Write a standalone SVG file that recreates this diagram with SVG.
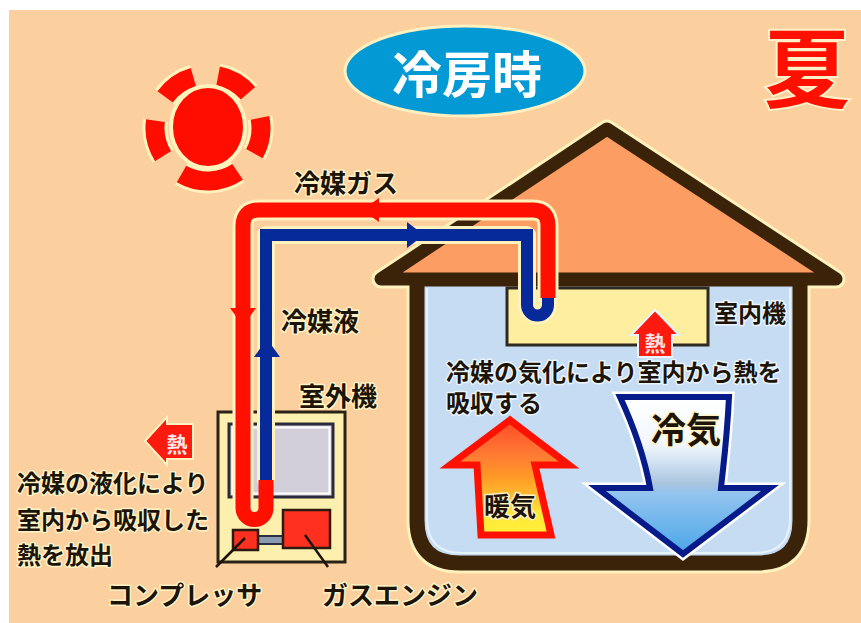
<svg xmlns="http://www.w3.org/2000/svg" width="861" height="623" viewBox="0 0 861 623">
  <defs>
    <style>
      .t { font-family: "Noto Sans CJK JP", "Noto Sans", sans-serif; font-weight: 700; fill: #1c1409; stroke: #fff3c6; stroke-width: 3; paint-order: stroke; stroke-linejoin: round; }
      .tin { stroke: #eaf4fd; }
      .ray { fill: none; stroke: #ff0d00; stroke-width: 19; }
      .rayhalo { fill: none; stroke: #fff3bd; stroke-width: 25; }
      .halo { fill: none; stroke: #fff2bd; stroke-linecap: round; stroke-linejoin: round; }
      .gas { fill: none; stroke: #ff1000; stroke-width: 15; }
      .liq { fill: none; stroke: #062a9a; stroke-width: 12; }
      .lead { fill: none; stroke: #1c1409; stroke-width: 2.5; }
      .box { stroke: #2a2216; stroke-width: 3; }
    </style>
    <linearGradient id="warm" x1="0" y1="0" x2="0" y2="1">
      <stop offset="0" stop-color="#ff4a28"/>
      <stop offset="0.3" stop-color="#ff7a34"/>
      <stop offset="0.5" stop-color="#ff9a26"/>
      <stop offset="0.68" stop-color="#ffc030"/>
      <stop offset="0.8" stop-color="#ffe636"/>
      <stop offset="1" stop-color="#fff03a"/>
    </linearGradient>
    <linearGradient id="cool" x1="0" y1="0" x2="0" y2="1">
      <stop offset="0" stop-color="#ffffff"/>
      <stop offset="0.3" stop-color="#f2f7fc"/>
      <stop offset="0.42" stop-color="#cfe1f2"/>
      <stop offset="0.55" stop-color="#aac4de"/>
      <stop offset="0.62" stop-color="#92c4f0"/>
      <stop offset="1" stop-color="#4aa6e8"/>
    </linearGradient>
  </defs>

  <!-- paper -->
  <rect width="861" height="623" fill="#ffffff"/>
  <rect x="9" y="10" width="852" height="613" fill="#fccf9e"/>

  <!-- sun -->
  <g id="sun">
    <path class="rayhalo" d="M165.1,96.8 A53,53 0 0 1 193.4,77.1 M218.1,75.9 A53,53 0 0 1 248,93.2 M163.1,156.1 A53,53 0 0 1 155.5,120.6 M260,117.9 A53,53 0 0 1 254.4,153.7 M237.6,171.9 A53,53 0 0 1 181.5,173.9"/>
    <path class="ray" d="M165.1,96.8 A53,53 0 0 1 193.4,77.1 M218.1,75.9 A53,53 0 0 1 248,93.2 M163.1,156.1 A53,53 0 0 1 155.5,120.6 M260,117.9 A53,53 0 0 1 254.4,153.7 M237.6,171.9 A53,53 0 0 1 181.5,173.9"/>
    <ellipse cx="208" cy="127" rx="37" ry="41" fill="#ff0d00" stroke="#fff3bd" stroke-width="4"/>
  </g>

  <!-- heading -->
  <g id="title">
    <ellipse cx="465" cy="71" rx="120" ry="45" fill="#0399d4" stroke="#fff0c0" stroke-width="3"/>
    <text x="467" y="93" text-anchor="middle" font-size="50" font-family="Noto Sans CJK JP, sans-serif" font-weight="700" fill="#ffffff">冷房時</text>
  </g>
  <g id="season">
    <text x="807" y="101" text-anchor="middle" font-size="86" font-family="Noto Sans CJK JP, sans-serif" font-weight="700" fill="#ff1000" stroke="#fff0c8" stroke-width="4" paint-order="stroke">夏</text>
  </g>

  <!-- house -->
  <g id="house">
    <path class="halo" stroke-width="21" d="M417,279 V520 Q417,563 460,563 H757 Q800,563 800,520 V279"/>
    <path class="halo" stroke-width="19" d="M381,279 L607,129 L836,279 Z"/>
    <path d="M417,279 V520 Q417,563 460,563 H757 Q800,563 800,520 V279 Z" fill="#c6dcf3" stroke="#3a2308" stroke-width="15"/>
    <path d="M427,288 V518 Q427,553 462,553 H755 Q790,553 790,518 V288" fill="none" stroke="#e6f2fc" stroke-width="2"/>
    <path d="M381,279 L607,129 L836,279 Z" fill="#fc9d64" stroke="#3a2308" stroke-width="13" stroke-linejoin="round"/>
  </g>

  <!-- indoor unit -->
  <g id="indoor-unit">
    <rect x="507" y="288" width="201" height="57" fill="#feeea0" stroke="#2e2a20" stroke-width="3"/>
    <text class="t tin" x="714" y="322" font-size="24">室内機</text>
  </g>

  <!-- outdoor unit -->
  <g id="outdoor-unit">
    <rect x="218" y="412" width="127" height="150" fill="#fdf0ae" class="box"/>
    <rect x="229" y="424" width="104" height="73" fill="#d3cfda" stroke="#2a2a3a" stroke-width="3"/>
    <rect x="232.5" y="427.5" width="97" height="66" fill="none" stroke="#ffffff" stroke-width="2"/>
    <rect x="258" y="536" width="25" height="8" fill="#8a9ab0" stroke="#2a3040" stroke-width="2"/>
    <rect id="compressor" x="233" y="530" width="25" height="20" fill="#ff3020" stroke="#2a1a10" stroke-width="2.5"/>
    <rect id="gas-engine" x="283" y="510" width="47" height="38" fill="#ff3020" stroke="#2a1a10" stroke-width="2.5"/>
    <text class="t" x="299" y="406" font-size="26">室外機</text>
  </g>

  <!-- refrigerant lines and leaders -->
  <g id="connectors">
    <path class="halo" stroke-width="21" d="M243,508 V226 Q243,210 259,210 H533 Q548,210 548,226 V298"/>
    <path class="halo" stroke-width="18" d="M266,480 V235 H527 V305 A10.5,10.5 0 0 0 548,305"/>
    <!-- liquid line (blue) -->
    <path class="liq" d="M266,480 V235 H527 V305 A10.5,10.5 0 0 0 548,305 V298" stroke-linejoin="miter"/>
    <!-- gas line (red) -->
    <path class="gas" d="M548,298 V226 Q548,210 533,210 H259 Q243,210 243,226 V508 A11.5,11.5 0 0 0 266,508 V480"/>
    <!-- flow arrowheads -->
    <polygon points="362,210 379,198 379,222" fill="#ff1000"/>
    <polygon points="230,308 256,308 243,326" fill="#ff1000"/>
    <polygon points="267,339 254,357 280,357" fill="#062a9a"/>
    <polygon points="424,235 407,222 407,248" fill="#062a9a"/>
    <!-- leader lines -->
    <line class="lead" x1="245" y1="538" x2="216" y2="567"/>
    <line class="lead" x1="305" y1="535" x2="328" y2="567"/>
  </g>

  <!-- heat released outdoors -->
  <g id="heat-out">
    <polygon points="145,441 167,417 167,424 193,424 193,459 167,459 167,465" fill="#ff1a10" stroke="#fff2c0" stroke-width="2"/>
    <text x="177" y="452" text-anchor="middle" font-size="21" font-family="Noto Sans CJK JP, sans-serif" font-weight="700" fill="#ffe6e6">熱</text>
  </g>

  <!-- heat absorbed indoors -->
  <g id="heat-in">
    <polygon points="655,310 679,335 672,335 672,357 638,357 638,335 631,335" fill="#ff1a10" stroke="#eaf4fd" stroke-width="2"/>
    <text x="655" y="351" text-anchor="middle" font-size="21" font-family="Noto Sans CJK JP, sans-serif" font-weight="700" fill="#ffe0e0">熱</text>
  </g>

  <!-- warm air -->
  <g id="warm-air">
    <polygon points="510,420 569,465 535,465 551,535 481,535 477,465 450,465" fill="url(#warm)" stroke="#ff1000" stroke-width="7" stroke-linejoin="miter"/>
    <text class="t" x="484" y="516" font-size="26" stroke="none">暖気</text>
  </g>

  <!-- cool air -->
  <g id="cool-air">
    <path d="M620,397 L729,397 C727,440 723,468 721,488 L770,488 L683,554 L597,488 L650,488 C645,460 633,425 620,397 Z" fill="url(#cool)" stroke="#ffffff" stroke-width="11" stroke-linejoin="miter"/>
    <path d="M620,397 L729,397 C727,440 723,468 721,488 L770,488 L683,554 L597,488 L650,488 C645,460 633,425 620,397 Z" fill="url(#cool)" stroke="#061a8a" stroke-width="6" stroke-linejoin="miter"/>
    <text class="t" x="651" y="443" font-size="35" stroke="none">冷気</text>
  </g>

  <!-- captions -->
  <g id="labels">
    <text class="t" x="294" y="193" font-size="26">冷媒ガス</text>
    <text class="t" x="281" y="331" font-size="26">冷媒液</text>
    <text class="t tin" x="446" y="381" font-size="24">冷媒の気化により室内から熱を</text>
    <text class="t tin" x="446" y="412" font-size="24">吸収する</text>
    <text class="t" x="17" y="492" font-size="24">冷媒の液化により</text>
    <text class="t" x="17" y="529" font-size="24">室内から吸収した</text>
    <text class="t" x="17" y="564" font-size="24">熱を放出</text>
    <text class="t" x="107" y="605" font-size="26">コンプレッサ</text>
    <text class="t" x="322" y="605" font-size="26">ガスエンジン</text>
  </g>
</svg>
